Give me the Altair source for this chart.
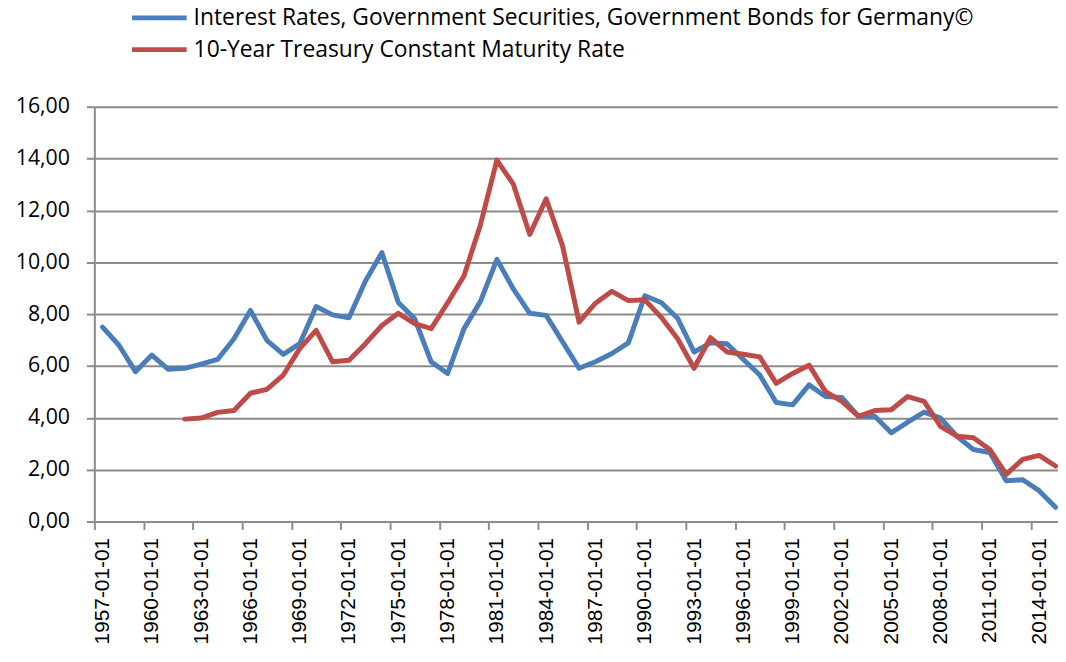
import altair as alt
import pandas as pd

years = list(range(1957, 2016))
germany = [7.50, 6.80, 5.78, 6.42, 5.87, 5.91, 6.07, 6.25, 7.05, 8.14,
           6.99, 6.45, 6.86, 8.29, 7.97, 7.86, 9.28, 10.37, 8.45, 7.82,
           6.16, 5.71, 7.44, 8.49, 10.11, 8.97, 8.03, 7.95, 6.93, 5.91,
           6.16, 6.48, 6.89, 8.71, 8.45, 7.84, 6.54, 6.89, 6.86, 6.25,
           5.65, 4.59, 4.50, 5.27, 4.82, 4.78, 4.06, 4.06, 3.42, 3.83,
           4.22, 3.99, 3.29, 2.78, 2.66, 1.57, 1.61, 1.19, 0.55]
us10y = [None, None, None, None, None, 3.95, 3.99, 4.21, 4.28, 4.95,
         5.10, 5.65, 6.67, 7.37, 6.16, 6.22, 6.86, 7.56, 8.03, 7.63,
         7.44, 8.43, 9.48, 11.45, 13.94, 13.01, 11.07, 12.45, 10.62, 7.69,
         8.42, 8.88, 8.52, 8.55, 7.88, 7.05, 5.91, 7.09, 6.54, 6.45,
         6.35, 5.33, 5.71, 6.03, 5.01, 4.63, 4.06, 4.28, 4.31, 4.82,
         4.63, 3.67, 3.29, 3.23, 2.78, 1.82, 2.40, 2.55, 2.14]
series_names = ["Interest Rates, Government Securities, Government Bonds for Germany©",
                "10-Year Treasury Constant Maturity Rate"]
series_colors = ["#4A7EBB", "#BE4B48"]
tick_positions = [y - 0.5 for y in range(1957, 2016, 3)]
y_ticks = list(range(0, 17, 2))

rows = []
for yr, g, u in zip(years, germany, us10y):
    rows.append({"year": yr, "value": g, "series": series_names[0]})
    if u is not None:
        rows.append({"year": yr, "value": u, "series": series_names[1]})
df = pd.DataFrame(rows)

PX_PER_YEAR = 16.556
PLOT_W = 971
PLOT_H = 418
x_max = 1956.5 + PLOT_W / PX_PER_YEAR

grid_gray = "#8C8C8C"

chart = alt.Chart(df).mark_line(strokeWidth=5, strokeCap="round", strokeJoin="round").encode(
    x=alt.X("year:Q",
            scale=alt.Scale(domain=[1956.5, x_max], nice=False, zero=False),
            axis=alt.Axis(values=tick_positions, title=None, grid=False,
                          labelExpr="toString(floor(datum.value) + 1) + '-01-01'",
                          labelAngle=270, labelAlign="right", labelBaseline="middle",
                          labelOffset=PX_PER_YEAR / 2, labelPadding=8,
                          labelFont="Liberation Sans", labelFontSize=21, labelColor="#000000",
                          tickSize=8, tickColor=grid_gray, tickWidth=2,
                          domainColor=grid_gray, domainWidth=2, labelOverlap=False)),
    y=alt.Y("value:Q",
            scale=alt.Scale(domain=[0, 16], nice=False),
            axis=alt.Axis(values=y_ticks, title=None,
                          labelExpr="replace(format(datum.value, '.2f'), '.', ',')",
                          labelFont="Open Sans", labelFontSize=21.5, labelColor="#000000",
                          labelPadding=17, tickSize=8, tickColor=grid_gray, tickWidth=2,
                          domainColor=grid_gray, domainWidth=2,
                          gridColor=grid_gray, gridWidth=2, gridOpacity=1)),
    color=alt.Color("series:N",
                    scale=alt.Scale(domain=series_names, range=series_colors),
                    sort=series_names,
                    legend=alt.Legend(title=None, orient="none", legendX=54, legendY=-101,
                                      direction="vertical",
                                      symbolType="M-4,0H4", symbolSize=189,
                                      symbolStrokeWidth=5, symbolFillColor="transparent",
                                      labelFont="Open Sans", labelFontSize=23, labelColor="#000000",
                                      labelOffset=23, rowPadding=8, padding=0,
                                      labelLimit=1000)),
).properties(
    width=PLOT_W,
    height=PLOT_H,
    autosize=alt.AutoSizeParams(type="none"),
    padding={"left": 87, "top": 97, "right": 0, "bottom": 125},
).configure_view(stroke=None).configure(background="white")

chart.save("out.html", embed_options={"renderer": "svg", "actions": False})
